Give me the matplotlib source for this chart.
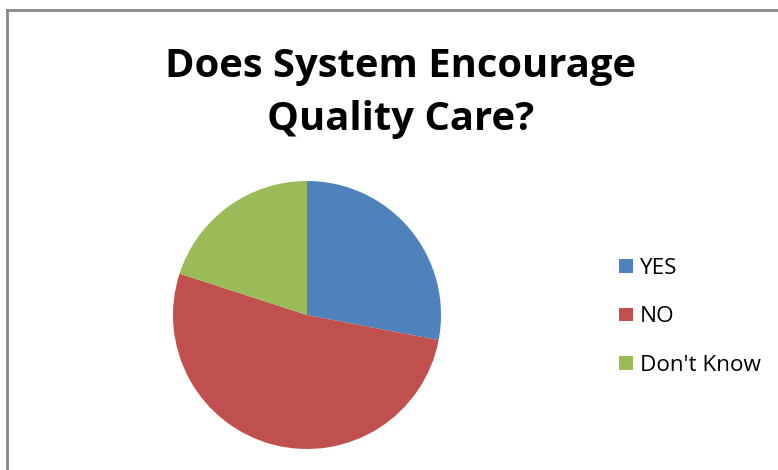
import matplotlib.pyplot as plt
from matplotlib.lines import Line2D

labels = ['YES', 'NO', "Don't Know"]
values = [28, 52, 20]
colors = ['#4F81BD', '#C0504D', '#9BBB59']
title_lines = ['Does System Encourage', 'Quality Care?']

W, H = 778, 470
fig = plt.figure(figsize=(W / 100, H / 100), dpi=100)

# pie: centre about (307, 315) px, radius 134 px
cx, cy, r = 307, 315, 134
ax = fig.add_axes([(cx - r) / W, (H - cy - r) / H, 2 * r / W, 2 * r / H])
wedges, _ = ax.pie(values, colors=colors, startangle=90, counterclock=False,
                   radius=1, wedgeprops=dict(linewidth=0))
ax.set_xlim(-1, 1)
ax.set_ylim(-1, 1)
ax.set_aspect('equal')

for line, base in zip(title_lines, [77, 130]):
    fig.text(401 / W, 1 - base / H, line, ha='center', va='baseline',
             fontsize=28.8, fontweight='bold', family='Open Sans', color='black')

fig.legend(wedges, labels, loc='center left', bbox_to_anchor=(619 / W, 1 - 317 / H),
           frameon=False, borderpad=0, borderaxespad=0,
           handlelength=0.62, handleheight=0.55, handletextpad=0.3,
           labelspacing=1.22, prop=dict(family='Open Sans', size=16.2))

# chart border (top and left edges visible)
fig.add_artist(Line2D([7 / W, 1], [1 - 10 / H, 1 - 10 / H], color='#888888', lw=2))
fig.add_artist(Line2D([7 / W, 7 / W], [0, 1 - 10 / H], color='#888888', lw=2))

fig.savefig('out.png', dpi=100)
